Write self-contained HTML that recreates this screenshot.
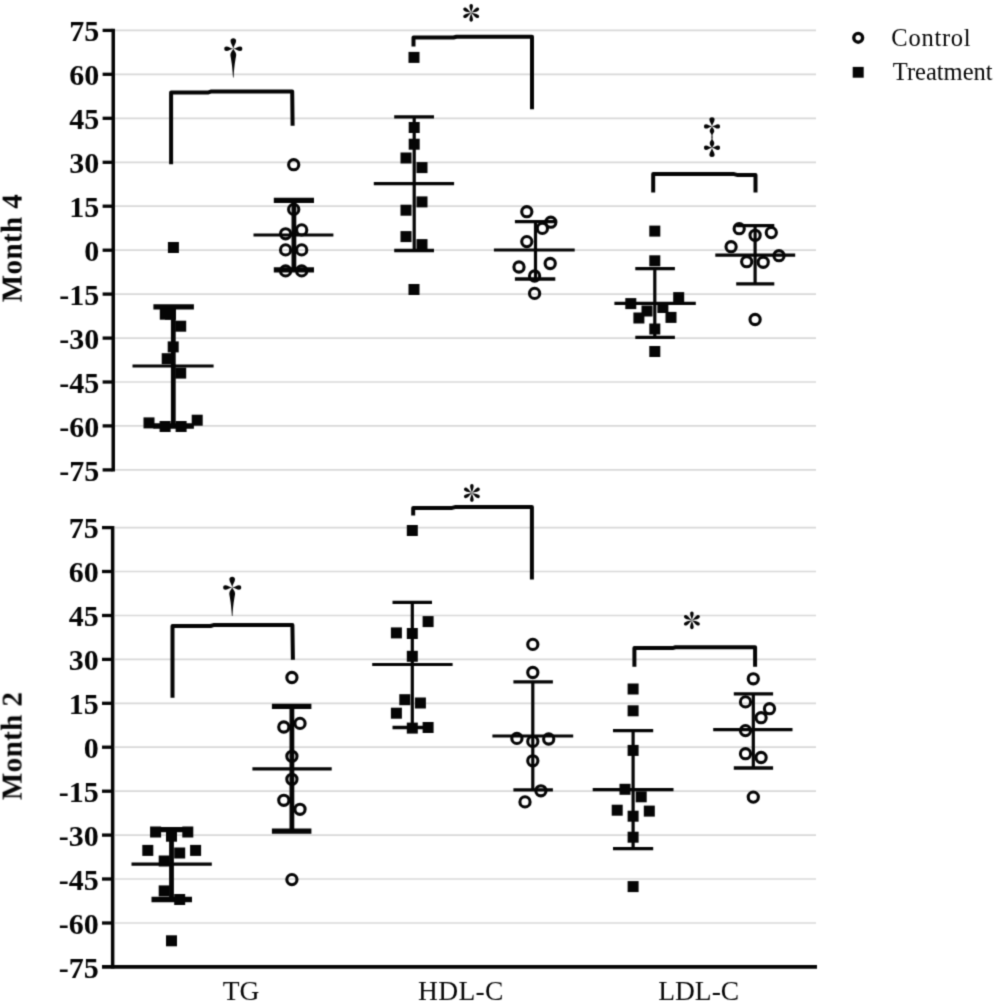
<!DOCTYPE html>
<html><head><meta charset="utf-8"><title>Lipid change scatter plots</title>
<style>
html,body{margin:0;padding:0;background:#fff;}
body{width:995px;height:1002px;overflow:hidden;}
svg{display:block;}
text{font-family:"Liberation Serif",serif;fill:#050505;}
.tl{font-weight:bold;font-size:30px;text-anchor:end;}
.yl{font-weight:bold;font-size:29px;text-anchor:middle;letter-spacing:0.4px;}
.lg{font-size:24.5px;}
.xl{font-size:27.5px;}
.sy{font-size:43px;text-anchor:middle;}
.g line{stroke:#d8d8d8;stroke-width:1.7;}
.k{stroke:#050505;fill:none;}
.sq rect{fill:#050505;}
.ci circle{fill:none;stroke:#050505;stroke-width:3.1;}
</style></head><body>
<svg width="995" height="1002" viewBox="0 0 995 1002">
<defs><filter id="soft" x="0" y="0" width="995" height="1002" filterUnits="userSpaceOnUse" color-interpolation-filters="sRGB"><feConvolveMatrix order="3" kernelMatrix="1 4 1 4 16 4 1 4 1" divisor="36" edgeMode="duplicate" preserveAlpha="false"/></filter></defs>
<g filter="url(#soft)">
<rect width="995" height="1002" fill="#fff"/>
<g class="g">
<line x1="115" y1="30.4" x2="816" y2="30.4"/>
<line x1="115" y1="74.3" x2="816" y2="74.3"/>
<line x1="115" y1="118.3" x2="816" y2="118.3"/>
<line x1="115" y1="162.3" x2="816" y2="162.3"/>
<line x1="115" y1="206.2" x2="816" y2="206.2"/>
<line x1="115" y1="250.2" x2="816" y2="250.2"/>
<line x1="115" y1="294.1" x2="816" y2="294.1"/>
<line x1="115" y1="338.1" x2="816" y2="338.1"/>
<line x1="115" y1="382.0" x2="816" y2="382.0"/>
<line x1="115" y1="425.9" x2="816" y2="425.9"/>
<line x1="115" y1="469.9" x2="816" y2="469.9"/>
<line x1="115" y1="527.6" x2="816" y2="527.6"/>
<line x1="115" y1="571.5" x2="816" y2="571.5"/>
<line x1="115" y1="615.5" x2="816" y2="615.5"/>
<line x1="115" y1="659.4" x2="816" y2="659.4"/>
<line x1="115" y1="703.3" x2="816" y2="703.3"/>
<line x1="115" y1="747.2" x2="816" y2="747.2"/>
<line x1="115" y1="791.2" x2="816" y2="791.2"/>
<line x1="115" y1="835.1" x2="816" y2="835.1"/>
<line x1="115" y1="879.0" x2="816" y2="879.0"/>
<line x1="115" y1="923.0" x2="816" y2="923.0"/>
<line x1="115" y1="966.9" x2="816" y2="966.9"/>
</g>
<g class="k">
<line x1="113.25" y1="28.7" x2="113.25" y2="471.6" stroke-width="3.5"/>
<line x1="102.6" y1="30.4" x2="112.5" y2="30.4" stroke-width="3.3"/>
<line x1="102.6" y1="74.3" x2="112.5" y2="74.3" stroke-width="3.3"/>
<line x1="102.6" y1="118.3" x2="112.5" y2="118.3" stroke-width="3.3"/>
<line x1="102.6" y1="162.3" x2="112.5" y2="162.3" stroke-width="3.3"/>
<line x1="102.6" y1="206.2" x2="112.5" y2="206.2" stroke-width="3.3"/>
<line x1="102.6" y1="250.2" x2="112.5" y2="250.2" stroke-width="3.3"/>
<line x1="102.6" y1="294.1" x2="112.5" y2="294.1" stroke-width="3.3"/>
<line x1="102.6" y1="338.1" x2="112.5" y2="338.1" stroke-width="3.3"/>
<line x1="102.6" y1="382.0" x2="112.5" y2="382.0" stroke-width="3.3"/>
<line x1="102.6" y1="425.9" x2="112.5" y2="425.9" stroke-width="3.3"/>
<line x1="102.6" y1="469.9" x2="112.5" y2="469.9" stroke-width="3.3"/>
<line x1="112.65" y1="525.9" x2="112.65" y2="968.6" stroke-width="3.5"/>
<line x1="102.0" y1="527.6" x2="111.9" y2="527.6" stroke-width="3.3"/>
<line x1="102.0" y1="571.5" x2="111.9" y2="571.5" stroke-width="3.3"/>
<line x1="102.0" y1="615.5" x2="111.9" y2="615.5" stroke-width="3.3"/>
<line x1="102.0" y1="659.4" x2="111.9" y2="659.4" stroke-width="3.3"/>
<line x1="102.0" y1="703.3" x2="111.9" y2="703.3" stroke-width="3.3"/>
<line x1="102.0" y1="747.2" x2="111.9" y2="747.2" stroke-width="3.3"/>
<line x1="102.0" y1="791.2" x2="111.9" y2="791.2" stroke-width="3.3"/>
<line x1="102.0" y1="835.1" x2="111.9" y2="835.1" stroke-width="3.3"/>
<line x1="102.0" y1="879.0" x2="111.9" y2="879.0" stroke-width="3.3"/>
<line x1="102.0" y1="923.0" x2="111.9" y2="923.0" stroke-width="3.3"/>
<line x1="102.0" y1="966.9" x2="817" y2="966.9" stroke-width="3.7"/>
</g>
<text class="tl" x="99.3" y="41.2">75</text>
<text class="tl" x="99.3" y="85.1">60</text>
<text class="tl" x="99.3" y="129.1">45</text>
<text class="tl" x="99.3" y="173.1">30</text>
<text class="tl" x="99.3" y="217.0">15</text>
<text class="tl" x="99.3" y="260.9">0</text>
<text class="tl" x="99.3" y="304.9">-15</text>
<text class="tl" x="99.3" y="348.9">-30</text>
<text class="tl" x="99.3" y="392.8">-45</text>
<text class="tl" x="99.3" y="436.8">-60</text>
<text class="tl" x="99.3" y="480.7">-75</text>
<text class="tl" x="98.7" y="538.4">75</text>
<text class="tl" x="98.7" y="582.3">60</text>
<text class="tl" x="98.7" y="626.3">45</text>
<text class="tl" x="98.7" y="670.2">30</text>
<text class="tl" x="98.7" y="714.1">15</text>
<text class="tl" x="98.7" y="758.0">0</text>
<text class="tl" x="98.7" y="802.0">-15</text>
<text class="tl" x="98.7" y="845.9">-30</text>
<text class="tl" x="98.7" y="889.8">-45</text>
<text class="tl" x="98.7" y="933.8">-60</text>
<text class="tl" x="98.7" y="977.7">-75</text>
<text class="yl" transform="translate(21.6,248) rotate(-90)">Month 4</text>
<text class="yl" transform="translate(21.6,745.8) rotate(-90)">Month 2</text>
<text class="lg" x="891.3" y="45.5" style="letter-spacing:0.75px">Control</text>
<text class="lg" x="892.8" y="79.9">Treatment</text>
<text class="xl" x="222.7" y="1000.4">TG</text>
<text class="xl" x="418.0" y="1000.4" style="letter-spacing:0.35px">HDL-C</text>
<text class="xl" x="658.2" y="1000.4">LDL-C</text>
<g class="k">
<line x1="173.3" y1="306.8" x2="173.3" y2="426.0" stroke-width="4.8"/>
<line x1="153.4" y1="306.8" x2="193.9" y2="306.8" stroke-width="5.3"/>
<line x1="153.4" y1="426.0" x2="193.9" y2="426.0" stroke-width="5.3"/>
<line x1="132.5" y1="366.0" x2="213.6" y2="366.0" stroke-width="3.2"/>
<line x1="293.9" y1="200.3" x2="293.9" y2="269.8" stroke-width="4.8"/>
<line x1="273.8" y1="200.3" x2="314.0" y2="200.3" stroke-width="5.3"/>
<line x1="273.8" y1="269.8" x2="314.0" y2="269.8" stroke-width="5.3"/>
<line x1="253.5" y1="235.0" x2="333.4" y2="235.0" stroke-width="3.2"/>
<line x1="414.2" y1="116.8" x2="414.2" y2="250.5" stroke-width="3.2"/>
<line x1="394.2" y1="116.8" x2="434.0" y2="116.8" stroke-width="3.3"/>
<line x1="394.2" y1="250.5" x2="434.0" y2="250.5" stroke-width="3.3"/>
<line x1="373.8" y1="183.6" x2="454.1" y2="183.6" stroke-width="3.2"/>
<line x1="535.5" y1="221.6" x2="535.5" y2="279.0" stroke-width="3.2"/>
<line x1="514.9" y1="221.6" x2="555.3" y2="221.6" stroke-width="3.3"/>
<line x1="514.9" y1="279.0" x2="555.3" y2="279.0" stroke-width="3.3"/>
<line x1="493.9" y1="250.0" x2="574.7" y2="250.0" stroke-width="3.2"/>
<line x1="654.8" y1="268.6" x2="654.8" y2="337.4" stroke-width="3.2"/>
<line x1="635.3" y1="268.6" x2="674.9" y2="268.6" stroke-width="3.3"/>
<line x1="635.3" y1="337.4" x2="674.9" y2="337.4" stroke-width="3.3"/>
<line x1="614.4" y1="303.3" x2="695.8" y2="303.3" stroke-width="3.2"/>
<line x1="755.1" y1="225.7" x2="755.1" y2="283.8" stroke-width="3.2"/>
<line x1="736.2" y1="225.7" x2="774.3" y2="225.7" stroke-width="3.3"/>
<line x1="736.2" y1="283.8" x2="774.3" y2="283.8" stroke-width="3.3"/>
<line x1="715.3" y1="255.1" x2="795.2" y2="255.1" stroke-width="3.2"/>
<line x1="171.5" y1="829.7" x2="171.5" y2="899.5" stroke-width="4.8"/>
<line x1="151.5" y1="829.7" x2="192.0" y2="829.7" stroke-width="5.3"/>
<line x1="151.5" y1="899.5" x2="192.0" y2="899.5" stroke-width="5.3"/>
<line x1="131.5" y1="864.2" x2="211.8" y2="864.2" stroke-width="3.2"/>
<line x1="291.9" y1="706.3" x2="291.9" y2="831.1" stroke-width="4.8"/>
<line x1="271.9" y1="706.3" x2="311.4" y2="706.3" stroke-width="5.3"/>
<line x1="271.9" y1="831.1" x2="311.4" y2="831.1" stroke-width="5.3"/>
<line x1="252.4" y1="768.9" x2="331.7" y2="768.9" stroke-width="3.2"/>
<line x1="412.3" y1="602.4" x2="412.3" y2="727.5" stroke-width="3.2"/>
<line x1="392.5" y1="602.4" x2="432.0" y2="602.4" stroke-width="3.3"/>
<line x1="392.5" y1="727.5" x2="432.0" y2="727.5" stroke-width="3.3"/>
<line x1="372.2" y1="664.5" x2="452.6" y2="664.5" stroke-width="3.2"/>
<line x1="532.8" y1="681.8" x2="532.8" y2="789.9" stroke-width="3.2"/>
<line x1="513.4" y1="681.8" x2="552.9" y2="681.8" stroke-width="3.3"/>
<line x1="513.4" y1="789.9" x2="552.9" y2="789.9" stroke-width="3.3"/>
<line x1="492.4" y1="736.0" x2="573.2" y2="736.0" stroke-width="3.2"/>
<line x1="633.1" y1="730.6" x2="633.1" y2="848.6" stroke-width="3.2"/>
<line x1="613.0" y1="730.6" x2="653.2" y2="730.6" stroke-width="3.3"/>
<line x1="613.0" y1="848.6" x2="653.2" y2="848.6" stroke-width="3.3"/>
<line x1="592.7" y1="789.6" x2="673.5" y2="789.6" stroke-width="3.2"/>
<line x1="753.3" y1="693.8" x2="753.3" y2="768.0" stroke-width="3.2"/>
<line x1="733.8" y1="693.8" x2="773.1" y2="693.8" stroke-width="3.3"/>
<line x1="733.8" y1="768.0" x2="773.1" y2="768.0" stroke-width="3.3"/>
<line x1="713.2" y1="729.7" x2="792.5" y2="729.7" stroke-width="3.2"/>
</g>
<g class="k" stroke-width="4.0" stroke-linejoin="round">
<polyline points="171.1,164.2 171.1,92.4 208.5,92.4 211.5,91.4 292.2,91.4 292.6,125.8"/>
<polyline points="413.5,46.4 413.5,37.5 453.5,37.5 456.5,36.7 532.0,36.7 532.0,109.3"/>
<polyline points="653.2,192.4 653.2,174.1 734.0,174.1 737.0,174.9 755.5,174.9 755.5,192.4"/>
<polyline points="172.5,697.7 172.5,626.0 210.5,626.0 213.5,625.1 292.4,625.1 292.9,659.8"/>
<polyline points="413.2,515.6 413.2,507.9 452.0,507.9 455.0,507.1 531.9,507.1 531.9,579.4"/>
<polyline points="634.4,666.8 634.4,648.1 672.5,648.1 675.5,647.3 755.1,647.3 755.1,666.8"/>
</g>
<g class="sq">
<rect x="159.8" y="308.7" width="11" height="11"/>
<rect x="165.0" y="308.7" width="11" height="11"/>
<rect x="175.2" y="320.7" width="11" height="11"/>
<rect x="167.7" y="341.4" width="11" height="11"/>
<rect x="161.7" y="353.2" width="11" height="11"/>
<rect x="175.2" y="367.6" width="11" height="11"/>
<rect x="143.5" y="417.4" width="11" height="11"/>
<rect x="191.7" y="414.7" width="11" height="11"/>
<rect x="159.6" y="421.0" width="11" height="11"/>
<rect x="175.6" y="421.0" width="11" height="11"/>
<rect x="167.9" y="242.0" width="11" height="11"/>
<rect x="408.5" y="51.9" width="11" height="11"/>
<rect x="408.7" y="122.0" width="11" height="11"/>
<rect x="408.7" y="138.7" width="11" height="11"/>
<rect x="400.5" y="152.5" width="11" height="11"/>
<rect x="416.5" y="162.1" width="11" height="11"/>
<rect x="416.5" y="196.4" width="11" height="11"/>
<rect x="400.5" y="204.7" width="11" height="11"/>
<rect x="400.5" y="231.1" width="11" height="11"/>
<rect x="416.5" y="239.1" width="11" height="11"/>
<rect x="408.5" y="284.0" width="11" height="11"/>
<rect x="649.3" y="225.6" width="11" height="11"/>
<rect x="649.3" y="255.3" width="11" height="11"/>
<rect x="673.2" y="292.1" width="11" height="11"/>
<rect x="625.3" y="298.1" width="11" height="11"/>
<rect x="641.5" y="305.5" width="11" height="11"/>
<rect x="657.4" y="302.0" width="11" height="11"/>
<rect x="633.4" y="312.5" width="11" height="11"/>
<rect x="665.5" y="311.9" width="11" height="11"/>
<rect x="649.3" y="323.5" width="11" height="11"/>
<rect x="649.3" y="346.0" width="11" height="11"/>
<rect x="150.1" y="826.5" width="11" height="11"/>
<rect x="182.3" y="826.5" width="11" height="11"/>
<rect x="166.0" y="830.7" width="11" height="11"/>
<rect x="142.3" y="844.9" width="11" height="11"/>
<rect x="190.1" y="844.9" width="11" height="11"/>
<rect x="174.2" y="847.5" width="11" height="11"/>
<rect x="158.7" y="855.5" width="11" height="11"/>
<rect x="158.7" y="885.4" width="11" height="11"/>
<rect x="174.2" y="894.0" width="11" height="11"/>
<rect x="166.0" y="935.3" width="11" height="11"/>
<rect x="406.8" y="525.0" width="11" height="11"/>
<rect x="422.6" y="616.1" width="11" height="11"/>
<rect x="390.9" y="627.4" width="11" height="11"/>
<rect x="406.8" y="628.0" width="11" height="11"/>
<rect x="406.8" y="650.8" width="11" height="11"/>
<rect x="399.3" y="694.2" width="11" height="11"/>
<rect x="414.9" y="697.5" width="11" height="11"/>
<rect x="390.9" y="707.7" width="11" height="11"/>
<rect x="406.8" y="722.6" width="11" height="11"/>
<rect x="422.6" y="722.0" width="11" height="11"/>
<rect x="627.6" y="683.5" width="11" height="11"/>
<rect x="627.6" y="705.3" width="11" height="11"/>
<rect x="627.6" y="744.9" width="11" height="11"/>
<rect x="619.5" y="783.8" width="11" height="11"/>
<rect x="635.7" y="791.3" width="11" height="11"/>
<rect x="611.7" y="804.7" width="11" height="11"/>
<rect x="643.8" y="805.6" width="11" height="11"/>
<rect x="627.6" y="810.7" width="11" height="11"/>
<rect x="627.6" y="831.7" width="11" height="11"/>
<rect x="627.6" y="881.1" width="11" height="11"/>
</g>
<g class="ci">
<circle cx="293.7" cy="164.7" r="5.1"/>
<circle cx="293.7" cy="209.4" r="5.1"/>
<circle cx="285.6" cy="233.8" r="5.1"/>
<circle cx="301.7" cy="229.9" r="5.1"/>
<circle cx="285.6" cy="249.9" r="5.1"/>
<circle cx="301.7" cy="249.9" r="5.1"/>
<circle cx="285.6" cy="270.9" r="5.1"/>
<circle cx="301.7" cy="270.9" r="5.1"/>
<circle cx="526.8" cy="211.7" r="5.1"/>
<circle cx="550.8" cy="222.2" r="5.1"/>
<circle cx="542.4" cy="228.4" r="5.1"/>
<circle cx="526.8" cy="241.6" r="5.1"/>
<circle cx="550.2" cy="263.5" r="5.1"/>
<circle cx="519.0" cy="267.0" r="5.1"/>
<circle cx="534.6" cy="276.0" r="5.1"/>
<circle cx="534.6" cy="293.4" r="5.1"/>
<circle cx="739.2" cy="228.7" r="5.1"/>
<circle cx="771.3" cy="232.6" r="5.1"/>
<circle cx="755.1" cy="235.3" r="5.1"/>
<circle cx="731.1" cy="246.7" r="5.1"/>
<circle cx="779.0" cy="255.7" r="5.1"/>
<circle cx="746.7" cy="261.7" r="5.1"/>
<circle cx="763.2" cy="262.3" r="5.1"/>
<circle cx="755.1" cy="319.5" r="5.1"/>
<circle cx="291.9" cy="677.5" r="5.1"/>
<circle cx="283.8" cy="727.0" r="5.1"/>
<circle cx="300.0" cy="723.4" r="5.1"/>
<circle cx="291.9" cy="756.3" r="5.1"/>
<circle cx="291.9" cy="779.3" r="5.1"/>
<circle cx="283.8" cy="800.3" r="5.1"/>
<circle cx="300.0" cy="809.3" r="5.1"/>
<circle cx="291.9" cy="879.6" r="5.1"/>
<circle cx="532.8" cy="644.4" r="5.1"/>
<circle cx="532.8" cy="672.5" r="5.1"/>
<circle cx="516.9" cy="738.4" r="5.1"/>
<circle cx="532.8" cy="741.4" r="5.1"/>
<circle cx="548.7" cy="739.0" r="5.1"/>
<circle cx="532.8" cy="760.8" r="5.1"/>
<circle cx="540.9" cy="790.8" r="5.1"/>
<circle cx="525.0" cy="801.9" r="5.1"/>
<circle cx="753.3" cy="678.8" r="5.1"/>
<circle cx="745.5" cy="701.9" r="5.1"/>
<circle cx="769.5" cy="708.7" r="5.1"/>
<circle cx="761.1" cy="717.7" r="5.1"/>
<circle cx="745.5" cy="730.6" r="5.1"/>
<circle cx="745.5" cy="753.7" r="5.1"/>
<circle cx="761.1" cy="757.5" r="5.1"/>
<circle cx="753.3" cy="797.1" r="5.1"/>
<circle cx="858.2" cy="37.8" r="4.4" style="stroke-width:3.4"/>
</g>
<rect x="852.7" y="66.9" width="11" height="10.8" fill="#050505"/>
<g transform="translate(233.3,48.8)" fill="#050505">
<path transform="rotate(0)" d="M0,0 C-0.55,-3.50 -2.80,-5.30 -2.80,-8.06 C-2.80,-9.75 -1.68,-10.60 0,-10.60 C1.68,-10.60 2.80,-9.75 2.80,-8.06 C2.80,-5.30 0.55,-3.50 0,0Z"/>
<path transform="rotate(90)" d="M0,0 C-0.55,-2.97 -2.25,-4.50 -2.25,-6.84 C-2.25,-8.28 -1.35,-9.00 0,-9.00 C1.35,-9.00 2.25,-8.28 2.25,-6.84 C2.25,-4.50 0.55,-2.97 0,0Z"/>
<path transform="rotate(270)" d="M0,0 C-0.55,-2.97 -2.25,-4.50 -2.25,-6.84 C-2.25,-8.28 -1.35,-9.00 0,-9.00 C1.35,-9.00 2.25,-8.28 2.25,-6.84 C2.25,-4.50 0.55,-2.97 0,0Z"/>
<path d="M0,0 C-0.6,1.6 -2.9,3.4 -2.9,6 C-2.9,8 -1.1,13.5 -0.3,28.6 L0.3,28.6 C1.1,13.5 2.9,8 2.9,6 C2.9,3.4 0.6,1.6 0,0Z"/>
</g>
<g transform="translate(471.2,12.8)" fill="#050505">
<path transform="rotate(0)" d="M0,0 C-0.55,-2.94 -1.75,-4.45 -1.75,-6.76 C-1.75,-8.19 -1.05,-8.90 0,-8.90 C1.05,-8.90 1.75,-8.19 1.75,-6.76 C1.75,-4.45 0.55,-2.94 0,0Z"/>
<path transform="rotate(60)" d="M0,0 C-0.55,-2.94 -1.75,-4.45 -1.75,-6.76 C-1.75,-8.19 -1.05,-8.90 0,-8.90 C1.05,-8.90 1.75,-8.19 1.75,-6.76 C1.75,-4.45 0.55,-2.94 0,0Z"/>
<path transform="rotate(120)" d="M0,0 C-0.55,-2.94 -1.75,-4.45 -1.75,-6.76 C-1.75,-8.19 -1.05,-8.90 0,-8.90 C1.05,-8.90 1.75,-8.19 1.75,-6.76 C1.75,-4.45 0.55,-2.94 0,0Z"/>
<path transform="rotate(180)" d="M0,0 C-0.55,-2.94 -1.75,-4.45 -1.75,-6.76 C-1.75,-8.19 -1.05,-8.90 0,-8.90 C1.05,-8.90 1.75,-8.19 1.75,-6.76 C1.75,-4.45 0.55,-2.94 0,0Z"/>
<path transform="rotate(240)" d="M0,0 C-0.55,-2.94 -1.75,-4.45 -1.75,-6.76 C-1.75,-8.19 -1.05,-8.90 0,-8.90 C1.05,-8.90 1.75,-8.19 1.75,-6.76 C1.75,-4.45 0.55,-2.94 0,0Z"/>
<path transform="rotate(300)" d="M0,0 C-0.55,-2.94 -1.75,-4.45 -1.75,-6.76 C-1.75,-8.19 -1.05,-8.90 0,-8.90 C1.05,-8.90 1.75,-8.19 1.75,-6.76 C1.75,-4.45 0.55,-2.94 0,0Z"/>
</g>
<g fill="#050505">
<g transform="translate(712.0,126.4) rotate(0)">
<path transform="rotate(0)" d="M0,0 C-0.55,-3.00 -2.60,-4.55 -2.60,-6.92 C-2.60,-8.37 -1.56,-9.10 0,-9.10 C1.56,-9.10 2.60,-8.37 2.60,-6.92 C2.60,-4.55 0.55,-3.00 0,0Z"/>
<path transform="rotate(90)" d="M0,0 C-0.55,-2.64 -2.20,-4.00 -2.20,-6.08 C-2.20,-7.36 -1.32,-8.00 0,-8.00 C1.32,-8.00 2.20,-7.36 2.20,-6.08 C2.20,-4.00 0.55,-2.64 0,0Z"/>
<path transform="rotate(270)" d="M0,0 C-0.55,-2.64 -2.20,-4.00 -2.20,-6.08 C-2.20,-7.36 -1.32,-8.00 0,-8.00 C1.32,-8.00 2.20,-7.36 2.20,-6.08 C2.20,-4.00 0.55,-2.64 0,0Z"/>
<path d="M0,0 C-0.5,1.2 -2.3,2.6 -2.3,4.6 C-2.3,6.2 -0.7,7.2 -0.5,8.5 L-0.5,11 L0.5,11 L0.5,8.5 C0.7,7.2 2.3,6.2 2.3,4.6 C2.3,2.6 0.5,1.2 0,0Z"/>
</g>
<g transform="translate(712.0,147.8) rotate(180)">
<path transform="rotate(0)" d="M0,0 C-0.55,-3.00 -2.60,-4.55 -2.60,-6.92 C-2.60,-8.37 -1.56,-9.10 0,-9.10 C1.56,-9.10 2.60,-8.37 2.60,-6.92 C2.60,-4.55 0.55,-3.00 0,0Z"/>
<path transform="rotate(90)" d="M0,0 C-0.55,-2.64 -2.20,-4.00 -2.20,-6.08 C-2.20,-7.36 -1.32,-8.00 0,-8.00 C1.32,-8.00 2.20,-7.36 2.20,-6.08 C2.20,-4.00 0.55,-2.64 0,0Z"/>
<path transform="rotate(270)" d="M0,0 C-0.55,-2.64 -2.20,-4.00 -2.20,-6.08 C-2.20,-7.36 -1.32,-8.00 0,-8.00 C1.32,-8.00 2.20,-7.36 2.20,-6.08 C2.20,-4.00 0.55,-2.64 0,0Z"/>
<path d="M0,0 C-0.5,1.2 -2.3,2.6 -2.3,4.6 C-2.3,6.2 -0.7,7.2 -0.5,8.5 L-0.5,11 L0.5,11 L0.5,8.5 C0.7,7.2 2.3,6.2 2.3,4.6 C2.3,2.6 0.5,1.2 0,0Z"/>
</g>
</g>
<g transform="translate(232.2,587.4)" fill="#050505">
<path transform="rotate(0)" d="M0,0 C-0.55,-3.50 -2.80,-5.30 -2.80,-8.06 C-2.80,-9.75 -1.68,-10.60 0,-10.60 C1.68,-10.60 2.80,-9.75 2.80,-8.06 C2.80,-5.30 0.55,-3.50 0,0Z"/>
<path transform="rotate(90)" d="M0,0 C-0.55,-2.97 -2.25,-4.50 -2.25,-6.84 C-2.25,-8.28 -1.35,-9.00 0,-9.00 C1.35,-9.00 2.25,-8.28 2.25,-6.84 C2.25,-4.50 0.55,-2.97 0,0Z"/>
<path transform="rotate(270)" d="M0,0 C-0.55,-2.97 -2.25,-4.50 -2.25,-6.84 C-2.25,-8.28 -1.35,-9.00 0,-9.00 C1.35,-9.00 2.25,-8.28 2.25,-6.84 C2.25,-4.50 0.55,-2.97 0,0Z"/>
<path d="M0,0 C-0.6,1.6 -2.9,3.4 -2.9,6 C-2.9,8 -1.1,13.5 -0.3,28.6 L0.3,28.6 C1.1,13.5 2.9,8 2.9,6 C2.9,3.4 0.6,1.6 0,0Z"/>
</g>
<g transform="translate(471.9,492.9)" fill="#050505">
<path transform="rotate(0)" d="M0,0 C-0.55,-2.94 -1.75,-4.45 -1.75,-6.76 C-1.75,-8.19 -1.05,-8.90 0,-8.90 C1.05,-8.90 1.75,-8.19 1.75,-6.76 C1.75,-4.45 0.55,-2.94 0,0Z"/>
<path transform="rotate(60)" d="M0,0 C-0.55,-2.94 -1.75,-4.45 -1.75,-6.76 C-1.75,-8.19 -1.05,-8.90 0,-8.90 C1.05,-8.90 1.75,-8.19 1.75,-6.76 C1.75,-4.45 0.55,-2.94 0,0Z"/>
<path transform="rotate(120)" d="M0,0 C-0.55,-2.94 -1.75,-4.45 -1.75,-6.76 C-1.75,-8.19 -1.05,-8.90 0,-8.90 C1.05,-8.90 1.75,-8.19 1.75,-6.76 C1.75,-4.45 0.55,-2.94 0,0Z"/>
<path transform="rotate(180)" d="M0,0 C-0.55,-2.94 -1.75,-4.45 -1.75,-6.76 C-1.75,-8.19 -1.05,-8.90 0,-8.90 C1.05,-8.90 1.75,-8.19 1.75,-6.76 C1.75,-4.45 0.55,-2.94 0,0Z"/>
<path transform="rotate(240)" d="M0,0 C-0.55,-2.94 -1.75,-4.45 -1.75,-6.76 C-1.75,-8.19 -1.05,-8.90 0,-8.90 C1.05,-8.90 1.75,-8.19 1.75,-6.76 C1.75,-4.45 0.55,-2.94 0,0Z"/>
<path transform="rotate(300)" d="M0,0 C-0.55,-2.94 -1.75,-4.45 -1.75,-6.76 C-1.75,-8.19 -1.05,-8.90 0,-8.90 C1.05,-8.90 1.75,-8.19 1.75,-6.76 C1.75,-4.45 0.55,-2.94 0,0Z"/>
</g>
<g transform="translate(691.9,620.3)" fill="#050505">
<path transform="rotate(0)" d="M0,0 C-0.55,-2.94 -1.75,-4.45 -1.75,-6.76 C-1.75,-8.19 -1.05,-8.90 0,-8.90 C1.05,-8.90 1.75,-8.19 1.75,-6.76 C1.75,-4.45 0.55,-2.94 0,0Z"/>
<path transform="rotate(60)" d="M0,0 C-0.55,-2.94 -1.75,-4.45 -1.75,-6.76 C-1.75,-8.19 -1.05,-8.90 0,-8.90 C1.05,-8.90 1.75,-8.19 1.75,-6.76 C1.75,-4.45 0.55,-2.94 0,0Z"/>
<path transform="rotate(120)" d="M0,0 C-0.55,-2.94 -1.75,-4.45 -1.75,-6.76 C-1.75,-8.19 -1.05,-8.90 0,-8.90 C1.05,-8.90 1.75,-8.19 1.75,-6.76 C1.75,-4.45 0.55,-2.94 0,0Z"/>
<path transform="rotate(180)" d="M0,0 C-0.55,-2.94 -1.75,-4.45 -1.75,-6.76 C-1.75,-8.19 -1.05,-8.90 0,-8.90 C1.05,-8.90 1.75,-8.19 1.75,-6.76 C1.75,-4.45 0.55,-2.94 0,0Z"/>
<path transform="rotate(240)" d="M0,0 C-0.55,-2.94 -1.75,-4.45 -1.75,-6.76 C-1.75,-8.19 -1.05,-8.90 0,-8.90 C1.05,-8.90 1.75,-8.19 1.75,-6.76 C1.75,-4.45 0.55,-2.94 0,0Z"/>
<path transform="rotate(300)" d="M0,0 C-0.55,-2.94 -1.75,-4.45 -1.75,-6.76 C-1.75,-8.19 -1.05,-8.90 0,-8.90 C1.05,-8.90 1.75,-8.19 1.75,-6.76 C1.75,-4.45 0.55,-2.94 0,0Z"/>
</g>
</g>
</svg>
</body></html>
